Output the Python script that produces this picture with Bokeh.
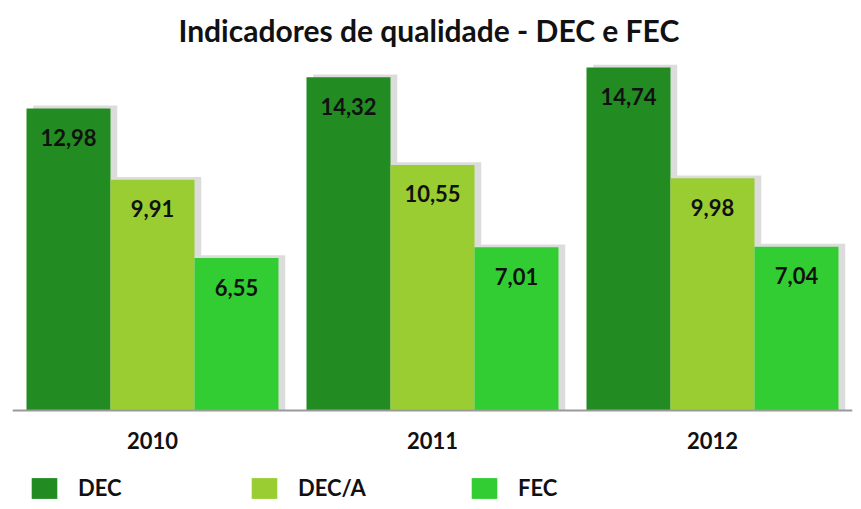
from bokeh.plotting import figure
from bokeh.models import ColumnDataSource, FactorRange, Range1d, Legend, LegendItem, Span
from bokeh.transform import dodge
from bokeh.core.properties import value
from bokeh.embed import file_html
from bokeh.resources import INLINE

years = ["2010", "2011", "2012"]
dec = [12.98, 14.32, 14.74]
dec_a = [9.91, 10.55, 9.98]
fec = [6.55, 7.01, 7.04]
series_names = ["DEC", "DEC/A", "FEC"]
title_text = "Indicadores de qualidade -  DEC e FEC"

colors = ["#228b22", "#9acd32", "#32cd32"]
FONT = "Lato"

def fmt(v):
    return f"{v:.2f}".replace(".", ",")

data = dict(year=years, dec=dec, dec_a=dec_a, fec=fec)
for key in ["dec", "dec_a", "fec"]:
    data[key + "_lbl"] = [fmt(v) for v in data[key]]
    data[key + "_sh"] = [v + 0.12 for v in data[key]]
source = ColumnDataSource(data)

p = figure(x_range=FactorRange(*years, range_padding=0), y_range=Range1d(-3.91, 15.21),
           width=853, height=501, output_backend="svg", toolbar_location=None,
           x_axis_location=None, y_axis_location=None,
           min_border_left=12, min_border_right=1,
           min_border_top=56, min_border_bottom=0, title=title_text)
p.title.align = "center"
p.title.text_font = FONT
p.title.text_font_size = "30px"
p.title.text_font_style = "bold"
p.title.text_color = "#111111"
p.title.standoff = 18

p.outline_line_color = None
p.grid.visible = False
p.background_fill_color = "white"

offsets = [-0.3, 0.0, 0.3]
keys = ["dec", "dec_a", "fec"]
renderers = []
for key, off, col in zip(keys, offsets, colors):
    p.vbar(x=dodge("year", off + 0.024, range=p.x_range), top=key + "_sh", width=0.3,
           source=source, fill_color="#8a8a8a", fill_alpha=0.3, line_color=None)
    r = p.vbar(x=dodge("year", off, range=p.x_range), top=key, width=0.3,
               source=source, fill_color=col, line_color=None)
    renderers.append(r)
    p.text(x=dodge("year", off, range=p.x_range), y=key, text=key + "_lbl", source=source,
           y_offset=29, text_align="center", text_baseline="middle",
           text_font=value(FONT), text_font_size="22px", text_font_style="bold",
           text_color="#111111")

# baseline
p.add_layout(Span(location=0, dimension="width", line_color="#9a9a9a", line_width=2))

# year labels under the baseline
p.text(x="year", y=0, text="year", source=source, y_offset=30,
       text_align="center", text_baseline="middle",
       text_font=value(FONT), text_font_size="22px", text_font_style="bold",
       text_color="#111111")

legend = Legend(items=[LegendItem(label=n, renderers=[r]) for n, r in zip(series_names, renderers)],
                orientation="horizontal", location=(16, 0))
legend.glyph_width = 32
legend.glyph_height = 26
legend.label_standoff = 18
legend.label_width = 100
legend.spacing = 70
legend.padding = 0
legend.margin = 0
legend.border_line_color = None
legend.background_fill_alpha = 0
legend.label_text_font = FONT
legend.label_text_font_size = "22px"
legend.label_text_font_style = "bold"
legend.label_text_color = "#111111"
p.add_layout(legend, "center")

open("out.html", "w").write(file_html(p, INLINE))
